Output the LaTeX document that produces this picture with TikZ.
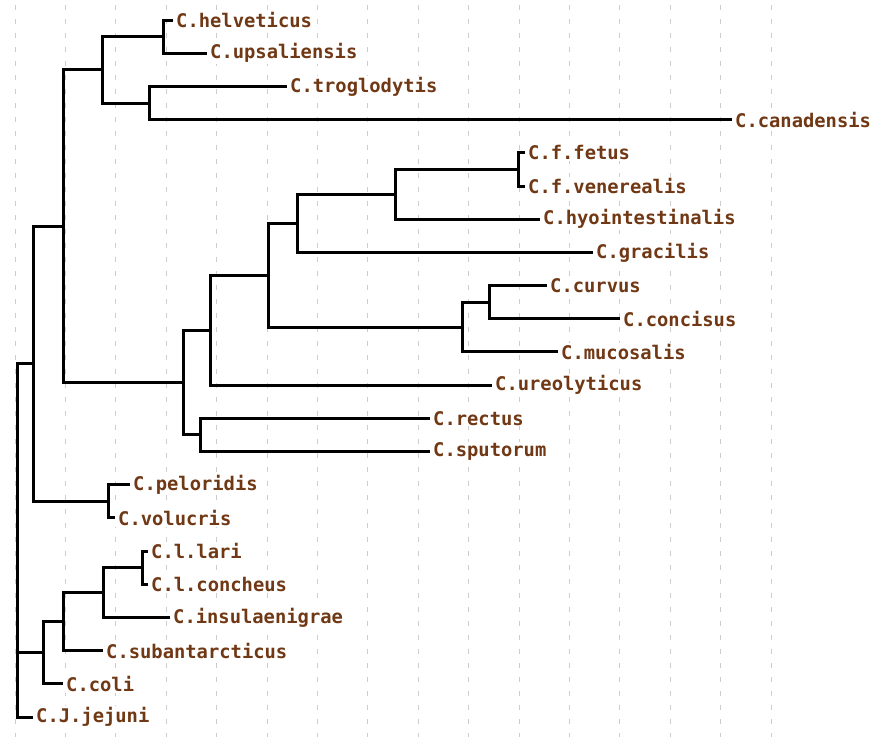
\documentclass[tikz,border=0pt]{standalone}
\usepackage{fontspec}
\newfontfamily\labfont{DejaVu Sans Mono}
\definecolor{labbrown}{RGB}{112,56,20}
\definecolor{gridgray}{RGB}{205,205,205}
\begin{document}
\begin{tikzpicture}[x=1pt,y=-1pt,
  leaf/.style={anchor=west, inner xsep=3pt, inner ysep=1pt, fill=white, text=labbrown, font=\labfont\bfseries\fontsize{18.8}{20}\selectfont},
  branch/.style={line width=3pt, black},
  gridline/.style={gridgray, line width=1pt, dash pattern=on 5pt off 9pt}]
\useasboundingbox[fill=white] (0,0) rectangle (876,737);
\foreach \i in {0,...,15} \draw[gridline] ({15+50.4*\i},5) -- ({15+50.4*\i},737);
% leaves
\node[leaf] (helv) at (173,20) {C.helveticus};
\node[leaf] (upsa) at (207,53.2) {C.upsaliensis};
\node[leaf] (trog) at (287,86.4) {C.troglodytis};
\node[leaf] (cana) at (732,119.6) {C.canadensis};
\node[leaf] (fetu) at (525,152.8) {C.f.fetus};
\node[leaf] (vene) at (525,186) {C.f.venerealis};
\node[leaf] (hyoi) at (540,219.2) {C.hyointestinalis};
\node[leaf] (grac) at (593,252.3) {C.gracilis};
\node[leaf] (curv) at (547,285.5) {C.curvus};
\node[leaf] (conc) at (620,318.7) {C.concisus};
\node[leaf] (muco) at (558,351.9) {C.mucosalis};
\node[leaf] (ureo) at (492,385.1) {C.ureolyticus};
\node[leaf] (rect) at (430,418.3) {C.rectus};
\node[leaf] (sput) at (430,451.5) {C.sputorum};
\node[leaf] (pelo) at (130,484.7) {C.peloridis};
\node[leaf] (volu) at (115,517.9) {C.volucris};
\node[leaf] (lari) at (148,551.1) {C.l.lari};
\node[leaf] (conch) at (148,584.3) {C.l.concheus};
\node[leaf] (insu) at (170,617.5) {C.insulaenigrae};
\node[leaf] (suba) at (103,650.6) {C.subantarcticus};
\node[leaf] (coli) at (63,683.8) {C.coli};
\node[leaf] (jeju) at (33,717) {C.J.jejuni};
% internal nodes
\coordinate (A) at (163,36.6);
\coordinate (B) at (149,103);
\coordinate (C) at (102,69.8);
\coordinate (D) at (518,169.4);
\coordinate (E) at (395,194.3);
\coordinate (F) at (297,223.3);
\coordinate (G) at (489,302.1);
\coordinate (H) at (462,327);
\coordinate (I) at (268,275.2);
\coordinate (J) at (210,330.1);
\coordinate (K) at (200,434.9);
\coordinate (L) at (183,382.5);
\coordinate (M) at (63,226.2);
\coordinate (N) at (108,501.3);
\coordinate (O) at (33,363.7);
\coordinate (P) at (142,567.7);
\coordinate (Q) at (103,592.6);
\coordinate (R) at (63,621.6);
\coordinate (S) at (43,652.7);
\coordinate (root) at (17,540);
% branches
\foreach \p/\c in {A/helv.west, A/upsa.west, B/trog.west, B/cana.west, C/A, C/B,
  D/fetu.west, D/vene.west, E/D, E/hyoi.west, F/E, F/grac.west,
  G/curv.west, G/conc.west, H/G, H/muco.west, I/F, I/H, J/I, J/ureo.west,
  K/rect.west, K/sput.west, L/J, L/K, M/C, M/L, N/pelo.west, N/volu.west,
  O/M, O/N, P/lari.west, P/conch.west, Q/P, Q/insu.west, R/Q, R/suba.west,
  S/R, S/coli.west, root/O, root/S, root/jeju.west}
  \draw[branch] (\p) |- (\c);
\end{tikzpicture}
\end{document}
